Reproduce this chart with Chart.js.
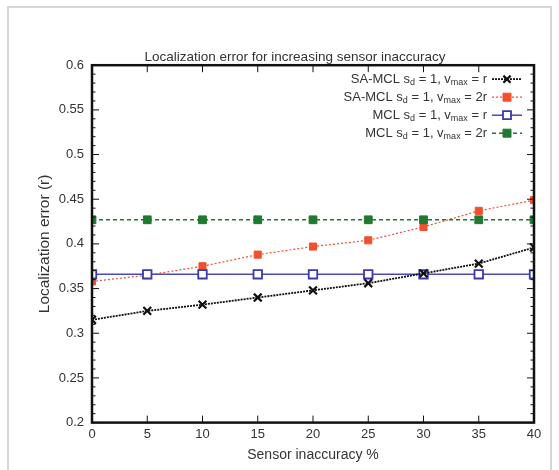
<!DOCTYPE html>
<html>
<head>
<meta charset="utf-8">
<script src="https://cdn.jsdelivr.net/npm/chart.js@4/dist/chart.umd.min.js"></script>
<style>
  html, body { margin: 0; padding: 0; background: #fff; }
  #wrap { width: 559px; height: 470px; position: relative; }
</style>
</head>
<body>
<div id="wrap"><canvas id="myChart" width="559" height="470"></canvas></div>
<script>
// sensor inaccuracy %
const inaccuracy = [0, 5, 10, 15, 20, 25, 30, 35, 40];
const saMclR  = [0.315, 0.325, 0.332, 0.340, 0.348, 0.356, 0.367, 0.378, 0.396];
const saMcl2R = [0.358, 0.365, 0.375, 0.388, 0.397, 0.404, 0.419, 0.437, 0.449];
const mclR    = [0.366, 0.366, 0.366, 0.366, 0.366, 0.366, 0.366, 0.366, 0.366];
const mcl2R   = [0.427, 0.427, 0.427, 0.427, 0.427, 0.427, 0.427, 0.427, 0.427];
const xTicks = [0, 5, 10, 15, 20, 25, 30, 35, 40];
const yTicks = [0.2, 0.25, 0.3, 0.35, 0.4, 0.45, 0.5, 0.55, 0.6];

const FONT = '"Liberation Sans", Arial, sans-serif';

function pts(ys) {
  return inaccuracy.map((x, i) => ({x: x, y: ys[i]}));
}

// legend entries: [prefix, sub1, mid, sub2, suffix]
const legendText = [
  ['SA-MCL s', 'd', ' = 1, v', 'max', ' = r'],
  ['SA-MCL s', 'd', ' = 1, v', 'max', ' = 2r'],
  ['MCL s', 'd', ' = 1, v', 'max', ' = r'],
  ['MCL s', 'd', ' = 1, v', 'max', ' = 2r']
];

const framePlugin = {
  id: 'frame',
  beforeDraw(chart) {
    const c = chart.ctx;
    c.save();
    c.strokeStyle = '#d6d6d6';
    c.lineWidth = 2;
    c.strokeRect(8, 7, 543, 470);
    c.restore();
  },
  afterDatasetsDraw(chart) {
    const c = chart.ctx;
    const a = chart.chartArea;
    const xs = chart.scales.x, ys = chart.scales.y;
    c.save();
    c.strokeStyle = '#111';
    // inward ticks, minor ones on y every 0.01
    c.lineWidth = 1;
    c.beginPath();
    for (let v = 20; v <= 60; v++) {
      const y = ys.getPixelForValue(v / 100);
      const len = (v % 5 === 0) ? 7 : 3.5;
      c.moveTo(a.left, y); c.lineTo(a.left + len, y);
      c.moveTo(a.right, y); c.lineTo(a.right - len, y);
    }
    xTicks.forEach(v => {
      const x = xs.getPixelForValue(v);
      c.moveTo(x, a.bottom); c.lineTo(x, a.bottom - 7);
      c.moveTo(x, a.top); c.lineTo(x, a.top + 7);
    });
    c.stroke();
    c.lineWidth = 2.5;
    c.strokeRect(a.left, a.top, a.right - a.left, a.bottom - a.top);

    // legend
    const ds = chart.data.datasets;
    const right = a.right - 47;
    const mx = a.right - 27;
    legendText.forEach((parts, i) => {
      const y = a.top + 14 + i * 18;
      const big = '13px ' + FONT, small = '9px ' + FONT;
      const segs = [[parts[0], big, 0], [parts[1], small, 3], [parts[2], big, 0], [parts[3], small, 3], [parts[4], big, 0]];
      let w = 0;
      segs.forEach(s => { c.font = s[1]; w += c.measureText(s[0]).width; });
      let x = right - w;
      c.fillStyle = '#333';
      c.textBaseline = 'middle';
      segs.forEach(s => {
        c.font = s[1];
        c.fillText(s[0], x, y + s[2]);
        x += c.measureText(s[0]).width;
      });
      const d = ds[i];
      c.strokeStyle = d.borderColor;
      c.lineWidth = d.borderWidth;
      c.setLineDash(d.borderDash || []);
      c.beginPath();
      c.moveTo(a.right - 42, y); c.lineTo(a.right - 12, y);
      c.stroke();
      c.setLineDash([]);
      c.fillStyle = d.pointBackgroundColor;
      c.strokeStyle = d.pointBorderColor;
      c.lineWidth = d.pointBorderWidth;
      c.beginPath();
      if (d.pointStyle === 'crossRot') {
        const r = 3.6;
        c.moveTo(mx - r, y - r); c.lineTo(mx + r, y + r);
        c.moveTo(mx + r, y - r); c.lineTo(mx - r, y + r);
        c.stroke();
      } else {
        const r = 4;
        c.rect(mx - r, y - r, 2 * r, 2 * r);
        c.fill(); c.stroke();
      }
    });
    c.restore();
  }
};

const ctx = document.getElementById('myChart').getContext('2d');
const myChart = new Chart(ctx, {
  type: 'line',
  data: {
    datasets: [
      {
        label: 'SA-MCL sd = 1, vmax = r',
        data: pts(saMclR),
        borderColor: '#111',
        borderWidth: 1.8,
        borderDash: [2, 1],
        pointStyle: 'crossRot',
        pointRadius: 5.5,
        pointBorderWidth: 2.2,
        pointBorderColor: '#111',
        pointBackgroundColor: '#111',
        order: 1
      },
      {
        label: 'SA-MCL sd = 1, vmax = 2r',
        data: pts(saMcl2R),
        borderColor: '#f2502e',
        borderWidth: 1.2,
        borderDash: [2, 2],
        pointStyle: 'rect',
        pointRadius: 5,
        pointBorderWidth: 1,
        pointBorderColor: '#f2502e',
        pointBackgroundColor: '#f2502e',
        order: 4
      },
      {
        label: 'MCL sd = 1, vmax = r',
        data: pts(mclR),
        borderColor: '#4a4ab8',
        borderWidth: 1.5,
        pointStyle: 'rect',
        pointRadius: 6,
        pointBorderWidth: 1.8,
        pointBorderColor: '#3a3aa8',
        pointBackgroundColor: '#ffffff',
        order: 2
      },
      {
        label: 'MCL sd = 1, vmax = 2r',
        data: pts(mcl2R),
        borderColor: '#1f7a30',
        borderWidth: 1.5,
        borderDash: [4, 3],
        pointStyle: 'rect',
        pointRadius: 5.5,
        pointBorderWidth: 1,
        pointBorderColor: '#1f7a30',
        pointBackgroundColor: '#1f7a30',
        order: 3
      }
    ]
  },
  options: {
    responsive: false,
    animation: false,
    layout: { padding: { left: 56, right: 25, top: 0, bottom: 6 } },
    plugins: {
      legend: { display: false },
      tooltip: { enabled: false },
      title: {
        display: true,
        text: 'Localization error for increasing sensor inaccuracy',
        color: '#333',
        font: { family: FONT, size: 13.5, weight: 'normal' },
        padding: { top: 49, bottom: 0 }
      }
    },
    scales: {
      x: {
        type: 'linear',
        min: 0, max: 40,
        afterBuildTicks: s => { s.ticks = xTicks.map(v => ({value: v})); },
        ticks: { color: '#333', font: { family: FONT, size: 13 }, padding: 4, maxRotation: 0 },
        grid: { display: false, drawTicks: false },
        border: { display: false },
        title: {
          display: true, text: 'Sensor inaccuracy %', color: '#333',
          font: { family: FONT, size: 14 }, padding: { top: 1, bottom: 0 }
        }
      },
      y: {
        min: 0.2, max: 0.6,
        afterBuildTicks: s => { s.ticks = yTicks.map(v => ({value: v})); },
        afterFit: s => { s.width = 36; },
        ticks: {
          color: '#333', font: { family: FONT, size: 13 }, padding: 8,
          callback: v => String(+v.toFixed(2))
        },
        grid: { display: false, drawTicks: false },
        border: { display: false },
        title: {
          display: true, text: 'Localization error (r)', color: '#333',
          font: { family: FONT, size: 15.5 }, padding: { top: -21, bottom: 0 }
        }
      }
    }
  },
  plugins: [framePlugin]
});
</script>
</body>
</html>
